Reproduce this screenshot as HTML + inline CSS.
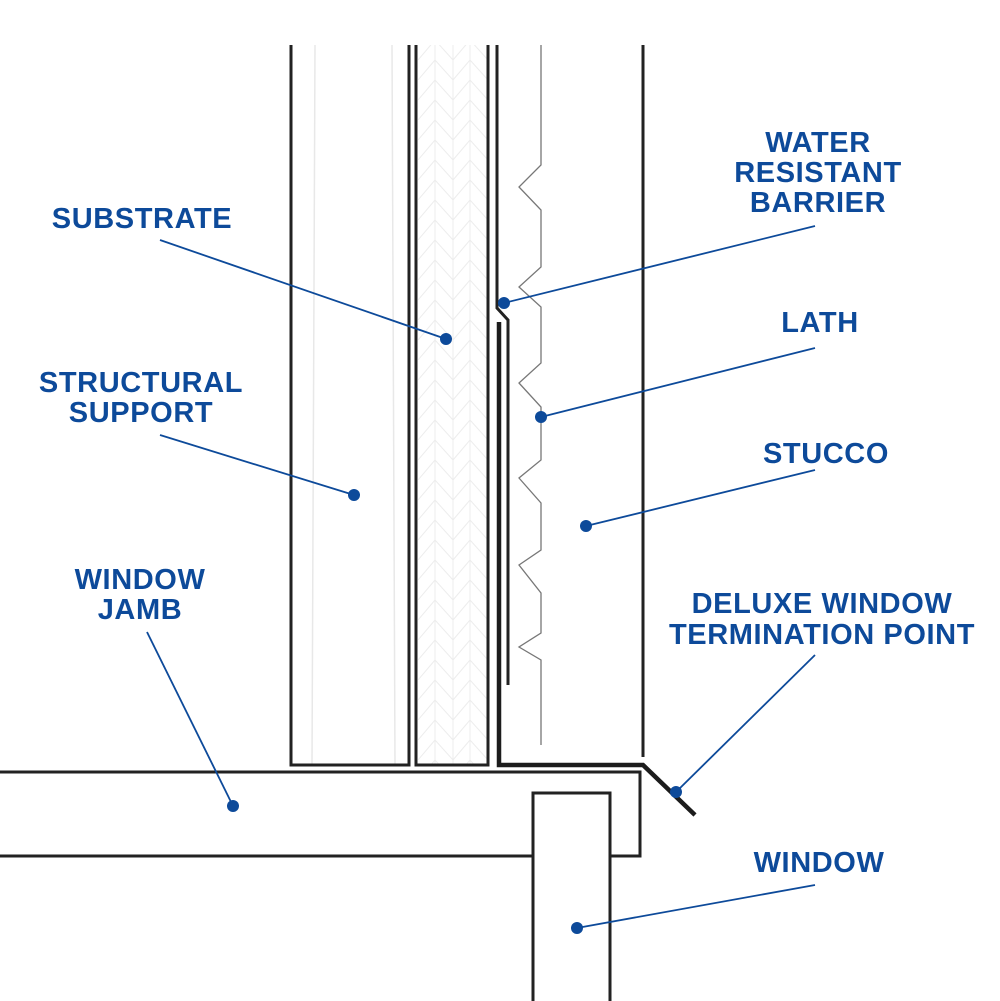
<!DOCTYPE html>
<html><head><meta charset="utf-8"><style>html,body{margin:0;padding:0;background:#fff}svg{display:block}</style></head>
<body>
<svg width="1000" height="1001" viewBox="0 0 1000 1001" xmlns="http://www.w3.org/2000/svg">
<defs>
<pattern id="hb" x="418" y="0" width="70" height="40" patternUnits="userSpaceOnUse">
<path d="M0,20 L17,0 M17,0 L35,20 M35,20 L52,0 M52,0 L70,20 M0,40 L17,20 M17,20 L35,40 M35,40 L52,20 M52,20 L70,40 M17,0 V40 M35,0 V40 M52,0 V40" stroke="#ededed" stroke-width="1" fill="none"/>
</pattern>
</defs>
<rect x="418" y="45" width="69" height="719" fill="url(#hb)"/>
<path d="M315,45 L312,765 M392,45 L395,765" stroke="#e8e8e8" stroke-width="1.5"/>
<g stroke="#222" stroke-width="3" fill="none">
<path d="M291,45 V765 H409 V45"/>
<path d="M416,45 V765 H488 V45"/>
<path d="M497,45 V308 L508,320 V685"/>
<path d="M643,45 V757"/>
<path d="M0,772 H640 V856 H610 M533,856 H0"/>
<path d="M533,1001 V793 H610 V1001"/>
</g>
<path d="M499,322 V765 H643 L695,815" stroke="#1c1c1c" stroke-width="4.5" fill="none"/>
<path d="M541,45 V165 L519,187 L541,210 V267 L519,287 L541,307 V363 L519,383 L541,407 V460 L519,478 L541,503 V550 L519,565 L541,593 V633 L519,647 L541,660 V745" stroke="#777" stroke-width="1.3" fill="none"/>
<g stroke="#0d4a9a" stroke-width="1.8">
<line x1="160" y1="240" x2="446" y2="339"/>
<line x1="160" y1="435" x2="354" y2="495"/>
<line x1="147" y1="632" x2="233" y2="806"/>
<line x1="815" y1="226" x2="504" y2="303"/>
<line x1="815" y1="348" x2="541" y2="417"/>
<line x1="815" y1="470" x2="586" y2="526"/>
<line x1="815" y1="655" x2="676" y2="792"/>
<line x1="815" y1="885" x2="577" y2="928"/>
</g>
<g fill="#0d4a9a">
<circle cx="446" cy="339" r="6"/><circle cx="354" cy="495" r="6"/><circle cx="233" cy="806" r="6"/>
<circle cx="504" cy="303" r="6"/><circle cx="541" cy="417" r="6"/><circle cx="586" cy="526" r="6"/>
<circle cx="676" cy="792" r="6"/><circle cx="577" cy="928" r="6"/>
</g>
<g fill="#0d4a9a" font-family="Liberation Sans, sans-serif" font-weight="bold" font-size="29" letter-spacing="0.6" text-anchor="middle">
<text x="142" y="228">SUBSTRATE</text>
<text x="141" y="392">STRUCTURAL</text>
<text x="141" y="422">SUPPORT</text>
<text x="140" y="589">WINDOW</text>
<text x="140" y="619">JAMB</text>
<text x="818" y="152">WATER</text>
<text x="818" y="182">RESISTANT</text>
<text x="818" y="212">BARRIER</text>
<text x="820" y="332">LATH</text>
<text x="826" y="463">STUCCO</text>
<text x="822" y="613">DELUXE WINDOW</text>
<text x="822" y="644">TERMINATION POINT</text>
<text x="819" y="872">WINDOW</text>
</g>
</svg>
</body></html>
